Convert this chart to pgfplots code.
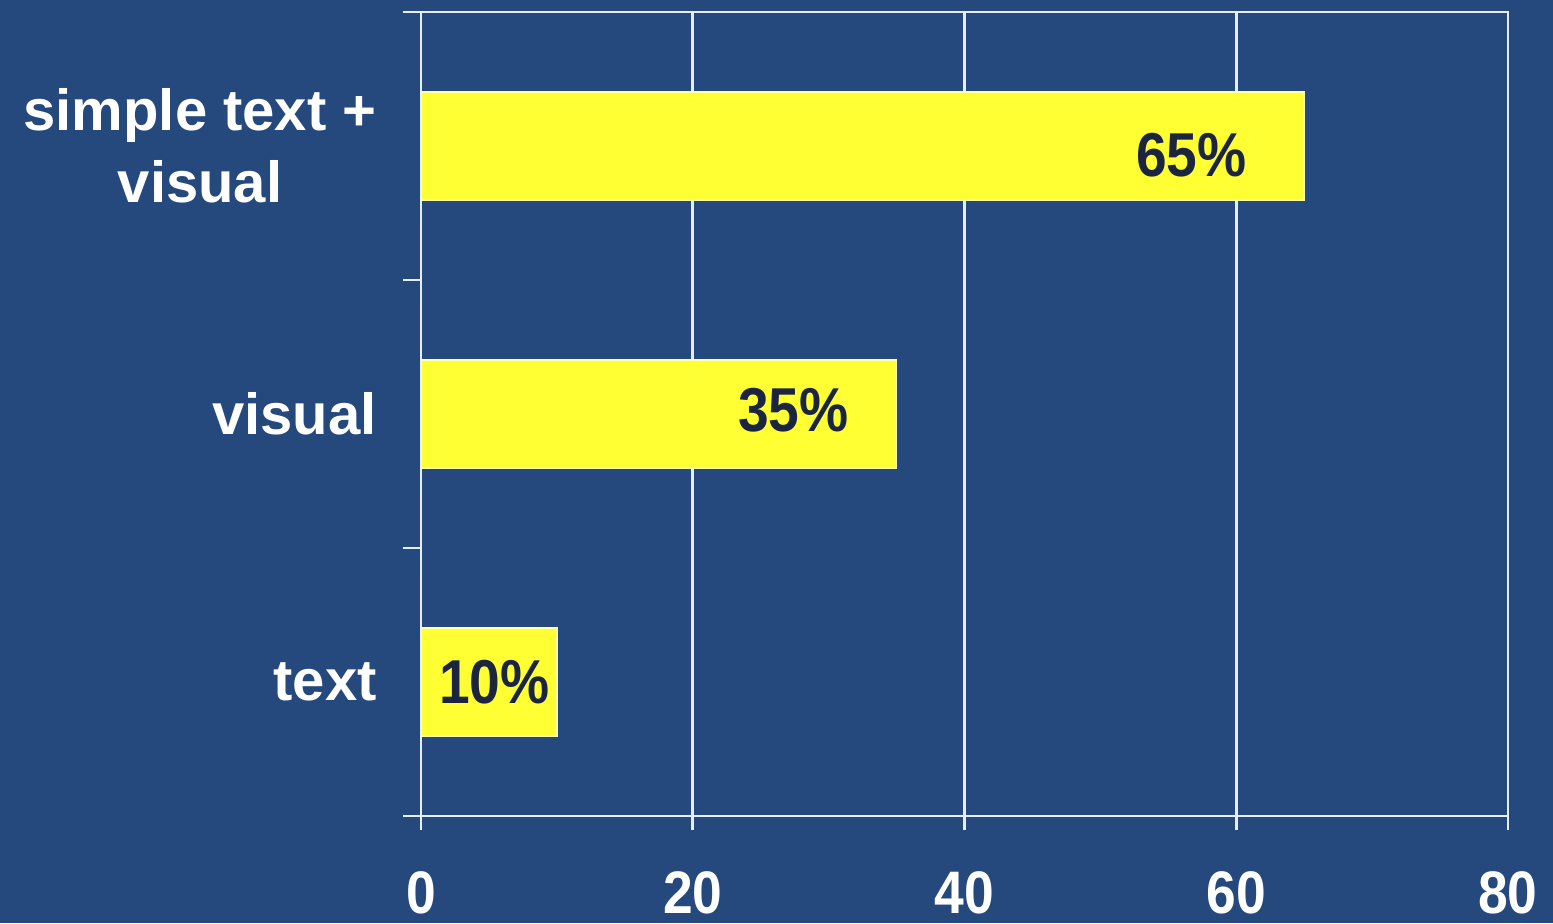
\documentclass[border=0pt]{standalone}
\usepackage{fontspec}
\setmainfont{Liberation Sans}
\newfontfamily\numfont{Liberation Sans}[FakeStretch=0.89]
\usepackage{pgfplots}
\usepackage{pgfplotstable}
\pgfplotsset{compat=1.18}
\definecolor{bg}{HTML}{25497D}
\definecolor{baryellow}{HTML}{FFFF33}
\definecolor{labeldark}{HTML}{1B2540}
\definecolor{gridw}{HTML}{E6EEF7}

\pgfplotstableread{
y x
0 10
1 35
2 65
}\bardata
\pgfplotstableread{
x y lab
5.4 0 10
27.4 1.015 35
56.7 1.966 65
}\labdata

\begin{document}
\begin{tikzpicture}
\useasboundingbox (0,0) rectangle (776.5pt,461.5pt);
\fill[bg] (0,0) rectangle (776.5pt,461.5pt);
\begin{axis}[
  at={(210.5pt,53.5pt)}, anchor=south west,
  width=543.5pt, height=402pt, scale only axis,
  xmin=0, xmax=80, ymin=-0.5, ymax=2.5,
  xtick={0,20,40,60,80},
  xtick pos=lower, ytick pos=left,
  tick align=outside,
  major tick length=7pt,
  minor tick length=9pt,
  xmajorgrids,
  grid style={gridw, line width=1.3pt},
  axis line style={gridw, line width=1.3pt},
  tick style={gridw, line width=1.3pt},
  major y tick style={draw=none},
  ytick={0,1,2},
  yticklabels={text, visual, {simple text +\\visual}},
  minor ytick={-0.5,0.5,1.5,2.5},
  yticklabel style={align=center, inner sep=0pt, anchor=east, xshift=-15pt,
    font=\bfseries\fontsize{29}{36}\selectfont, text=white},
  /pgf/number format/assume math mode=true,
  xticklabel style={anchor=base, inner sep=0pt, yshift=-41.5pt,
    font=\numfont\bfseries\fontsize{30}{30}\selectfont, text=white},
]
\addplot[xbar, fill=baryellow, draw=baryellow!40!white, line width=0.8pt,
  bar width=54pt, bar shift=0pt] table[x=x, y=y] {\bardata};
\addplot[draw=none, mark=none, point meta=explicit symbolic,
  nodes near coords={\pgfplotspointmeta\%},
  every node near coord/.append style={anchor=center, inner sep=0pt,
    font=\numfont\bfseries\fontsize{31}{31}\selectfont, text=labeldark}]
  table[x=x, y=y, meta=lab] {\labdata};
\end{axis}
\end{tikzpicture}
\end{document}
